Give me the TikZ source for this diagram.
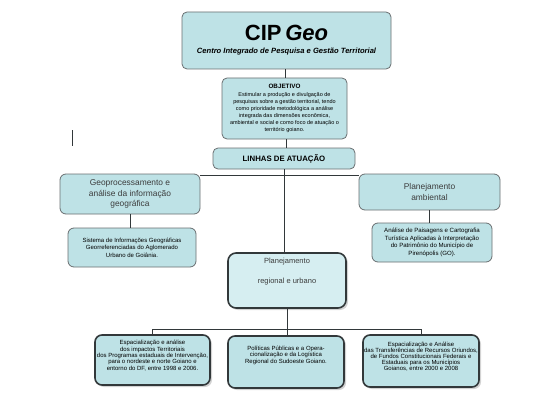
\documentclass[tikz,border=0pt]{standalone}
\usepackage{fontspec}
\setmainfont{Liberation Sans}
\usetikzlibrary{shadows}
\definecolor{boxfill}{RGB}{190,226,230}
\definecolor{lightfill}{RGB}{214,238,241}
\definecolor{boxline}{RGB}{105,110,112}
\definecolor{darkline}{RGB}{50,56,58}
\definecolor{txtgray}{RGB}{60,60,60}
\tikzset{
  topbox/.style={draw=boxline, fill=boxfill, rounded corners=5pt, line width=0.8pt, align=center, inner sep=1pt},
  botbox/.style={draw=darkline, fill=boxfill, rounded corners=7pt, line width=1.6pt, align=center, inner sep=1pt,
     drop shadow={shadow xshift=2pt, shadow yshift=-2pt, opacity=0.35}},
  conn/.style={draw=darkline, line width=0.7pt},
}
\begin{document}
\begin{tikzpicture}[x=1pt,y=-1pt]
\useasboundingbox (0,0) rectangle (560,420);
% CIPGeo
\node[topbox, minimum width=209pt, minimum height=57pt] (cip) at (286.5,40.5)
  {{\fontsize{22}{23}\selectfont\bfseries CIP\,\itshape Geo}\\[1pt]
   {\fontsize{7.6}{8}\selectfont\bfseries\itshape Centro Integrado de Pesquisa e Gestão Territorial}};
% OBJETIVO
\node[topbox, minimum width=125pt, minimum height=61pt, font=\fontsize{5.5}{7}\selectfont] (obj) at (284.5,108.5)
  {{\fontsize{6.3}{7}\selectfont\bfseries OBJETIVO}\\[1.5pt]
   Estimular a produção e divulgação de\\
   pesquisas sobre a gestão territorial, tendo\\
   como prioridade metodológica a análise\\
   integrada das dimensões econômica,\\
   ambiental e social e como foco de atuação o\\
   território goiano.};
% LINHAS
\node[topbox, minimum width=142pt, minimum height=21pt, font=\fontsize{7.8}{8}\selectfont\bfseries] (lin) at (284,158.5)
  {LINHAS DE ATUAÇÃO};
% Geoprocessamento
\node[topbox, rounded corners=6pt, minimum width=140pt, minimum height=40pt, text=txtgray, font=\fontsize{8.4}{10.5}\selectfont] (geo) at (130,194)
  {Geoprocessamento e\\ análise da informação\\ geográfica};
\node[topbox, rounded corners=6pt, minimum width=128pt, minimum height=39pt, font=\fontsize{6}{7.6}\selectfont] (sig) at (132,247.5)
  {Sistema de Informações Geográficas\\ Georreferenciadas do Aglomerado\\ Urbano de Goiânia.};
% Planejamento ambiental
\node[topbox, rounded corners=6pt, minimum width=141pt, minimum height=36pt, text=txtgray, font=\fontsize{8.4}{10.5}\selectfont] (amb) at (429.5,192)
  {Planejamento\\ ambiental};
\node[topbox, rounded corners=6pt, minimum width=120pt, minimum height=39pt, font=\fontsize{6.1}{7.5}\selectfont] (pai) at (432,242.5)
  {Análise de Paisagens e Cartografia\\ Turística Aplicadas à Interpretação\\ do Patrimônio do Município de\\ Pirenópolis (GO).};
% Planejamento regional e urbano
\node[botbox, fill=lightfill, rounded corners=8pt, minimum width=118pt, minimum height=55pt, text=txtgray, font=\fontsize{7.5}{9}\selectfont] (pru) at (287,280.5)
  {Planejamento\\[11pt] regional e urbano\\[10pt] \mbox{}};
% bottom boxes
\node[botbox, minimum width=115pt, minimum height=50pt, font=\fontsize{6}{6.3}\selectfont] (b1) at (152.5,360)
  {Espacialização e análise\\ dos impactos Territoriais\\ dos Programas estaduais de Intervenção,\\ para o nordeste e norte Goiano e\\ entorno do DF, entre 1998 e 2006.\\[3pt]\mbox{}};
\node[botbox, minimum width=116pt, minimum height=52pt, font=\fontsize{6}{6.6}\selectfont] (b2) at (286,362)
  {Políticas Públicas e a Opera-\\ cionalização e da Logística\\ Regional do Sudoeste Goiano.\\[8pt]\mbox{}};
\node[botbox, minimum width=116pt, minimum height=52pt, font=\fontsize{6}{5.9}\selectfont] (b3) at (421,361)
  {Espacialização e Análise\\ das Transferências de Recursos Oriundos,\\ de Fundos Constitucionais Federais e\\ Estaduais para os Municípios\\ Goianos, entre 2000 e 2008\\[3pt]\mbox{}};
% coordinates
\coordinate (h) at (284,175);
\coordinate (hb) at (287,329);
\coordinate (s1) at (72.5,130);
\coordinate (s2) at (72.5,146);
% connectors
\draw[conn] (obj.north -| cip.south) ++(-1.5,0) coordinate (oa) -- (oa |- cip.south);
\draw[conn] (obj.south) ++(2,0) coordinate (ob) -- (ob |- lin.north);
\draw[conn] (lin.south) -- (pru.north -| lin.south);
\draw[conn] (geo.east |- h) -- (amb.west |- h);
\draw[conn] (geo.south) -- (sig.north -| geo.south);
\draw[conn] (amb.south) -- (pai.north -| amb.south);
\draw[conn] (pru.south) -- (hb);
\draw[conn] (b1.north |- hb) -- (b3.north |- hb);
\draw[conn] (b1.north |- hb) -- (b1.north);
\draw[conn] (hb) -- (b2.north -| hb);
\draw[conn] (b3.north |- hb) -- (b3.north);
\draw[line width=1.2pt, draw=darkline] (s1) -- (s2);
\end{tikzpicture}
\end{document}
